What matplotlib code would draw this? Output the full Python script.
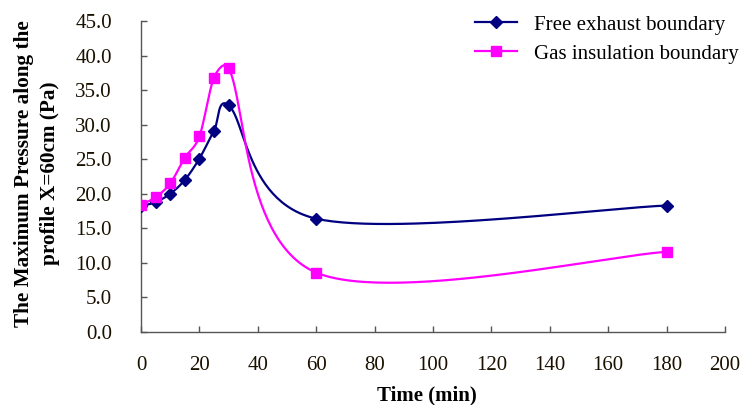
import numpy as np
import matplotlib
matplotlib.use("Agg")
import matplotlib.pyplot as plt
from matplotlib.ticker import FuncFormatter

time = [0, 5, 10, 15, 20, 25, 30, 60, 180]
free_exhaust = [18.2, 18.8, 20.0, 22.0, 25.1, 29.1, 32.8, 16.4, 18.3]
gas_insulation = [18.4, 19.5, 21.5, 25.2, 28.3, 36.8, 38.2, 8.6, 11.6]
series_names = ["Free exhaust boundary", "Gas insulation boundary"]
x_ticks = [0, 20, 40, 60, 80, 100, 120, 140, 160, 180, 200]
y_ticks = [0, 5, 10, 15, 20, 25, 30, 35, 40, 45]

XLIM = (0, 200)
YLIM = (0, 45)
AX_W_PX, AX_H_PX = 584, 311


def smooth(xs, ys, n=60):
    """Excel-like smoothed line: cubic Bezier, 1/6 tangents clamped to half the segment."""
    sx = AX_W_PX / (XLIM[1] - XLIM[0])
    sy = AX_H_PX / (YLIM[1] - YLIM[0])
    p = np.column_stack([np.asarray(xs, float) * sx, np.asarray(ys, float) * sy])
    out = []
    m = len(p)
    for i in range(m - 1):
        p0 = p[i - 1] if i > 0 else p[i]
        p1 = p[i]
        p2 = p[i + 1]
        p3 = p[i + 2] if i + 2 < m else p[i + 1]
        d12 = np.linalg.norm(p2 - p1)
        t1 = (p2 - p0) / 6.0
        t2 = (p3 - p1) / 6.0
        for t in (t1, t2):
            L = np.linalg.norm(t)
            if L > d12 / 2:
                t *= (d12 / 2) / L
        c1 = p1 + t1
        c2 = p2 - t2
        tt = np.linspace(0, 1, n)[:, None]
        seg = ((1 - tt) ** 3) * p1 + 3 * ((1 - tt) ** 2) * tt * c1 + 3 * (1 - tt) * tt ** 2 * c2 + tt ** 3 * p2
        out.append(seg if i == 0 else seg[1:])
    s = np.vstack(out)
    return s[:, 0] / sx, s[:, 1] / sy


plt.rcParams["font.family"] = ["Liberation Serif", "DejaVu Serif"]

fig = plt.figure(figsize=(7.42, 4.05), dpi=100)
ax = fig.add_axes([141 / 742, 1 - 332 / 405, AX_W_PX / 742, AX_H_PX / 405])

colors = ["#000080", "#FF00FF"]
markers = ["D", "s"]
msizes = [6.5, 6.5]
for ys, name, c, mk, ms in zip([free_exhaust, gas_insulation], series_names, colors, markers, msizes):
    sx, sy = smooth(time, ys)
    ax.plot(sx, sy, color=c, lw=1.6, zorder=2)
    ax.plot(time, ys, linestyle="none", marker=mk, markersize=ms, color=c, zorder=3)
    ax.plot([], [], color=c, lw=1.6, marker=mk, markersize=ms, label=name)

ax.set_xlim(*XLIM)
ax.set_ylim(*YLIM)
ax.set_xticks(x_ticks)
ax.set_yticks(y_ticks)
ax.yaxis.set_major_formatter(FuncFormatter(lambda v, p: f"{v:.1f}"))

for side in ["top", "right"]:
    ax.spines[side].set_visible(False)
for side in ["left", "bottom"]:
    ax.spines[side].set_color("#555555")
    ax.spines[side].set_linewidth(1.0)

ax.tick_params(axis="both", direction="in", length=4, width=1.0, color="#555555",
               labelsize=15, labelcolor="#1a1000")
ax.yaxis.set_tick_params(pad=21)
ax.xaxis.set_tick_params(pad=17)

ax.set_xlabel("Time (min)", fontsize=15, fontweight="bold")
ax.xaxis.set_label_coords(0.49, -0.172)
ax.set_ylabel("The Maximum Pressure along the\nprofile X=60cm (Pa)", fontsize=15.3,
              fontweight="bold", linespacing=1.45, va="center", ha="center")
ax.yaxis.set_label_coords(-0.178, 0.51)

ax.legend(loc="upper left", bbox_to_anchor=(475 / 742, 1 - 15 / 405),
          bbox_transform=fig.transFigure, frameon=False, fontsize=15,
          handlelength=2.0, handletextpad=0.85, labelspacing=0.45, borderpad=0,
          borderaxespad=0)

fig.savefig("out.png", dpi=100)
